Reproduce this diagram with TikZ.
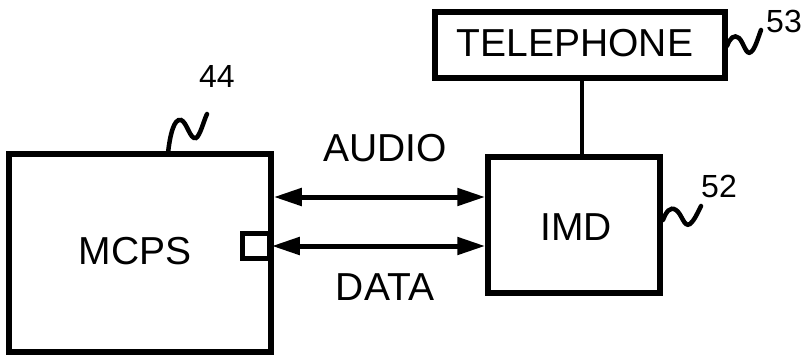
\documentclass[tikz,border=0pt]{standalone}
\usepackage{fontspec}
\setmainfont{Liberation Sans}
\usetikzlibrary{arrows.meta}
\tikzset{
  blk/.style={draw=black, line width=5.5pt, inner sep=0pt},
  lbl/.style={inner sep=0pt, font=\fontsize{32}{34}\selectfont},
  txt/.style={inner sep=0pt, font=\fontsize{39}{41}\selectfont},
  arr/.style={line width=5pt, {Triangle[length=28pt,width=17pt]}-{Triangle[length=28pt,width=17pt]}},
  squig/.style={line width=4.5pt, line cap=round}
}
\begin{document}
\begin{tikzpicture}[x=1pt,y=-1pt]
\useasboundingbox (0,0) rectangle (810,357);
\node[blk, minimum width=262pt, minimum height=198pt] (mcps) at (140,253) {};
\node[txt] at (135,251) {MCPS};
\node[blk, line width=4.5pt, minimum width=27pt, minimum height=25pt] (port) at (256,246) {};
\node[blk, minimum width=172pt, minimum height=136pt] (imd) at (574,225) {};
\node[txt] at (576,227) {IMD};
\node[blk, minimum width=290pt, minimum height=66pt] (tel) at (580,45) {};
\node[txt] at (575,43) {TELEPHONE};
\draw[line width=4pt] (tel.south -| 582,0) coordinate (t1) -- (imd.north -| t1);
\coordinate (ya) at (0,197);
\draw[arr] (mcps.east |- ya) -- (imd.west |- ya);
\draw[arr] (port.east) -- (imd.west |- port.east);
\node[txt] (audio) at (385,148) {AUDIO};
\node[txt] (data) at (385,287) {DATA};
% reference labels
\node[lbl] (n44) at (217,76) {44};
\node[lbl] (n52) at (719,186) {52};
\node[lbl] (n53) at (784,21) {53};
\draw[squig] (168,153) .. controls (170,135) and (174,118) .. (181,120) .. controls (187,122) and (190,140) .. (196,138) .. controls (200,136) and (204,120) .. (207,114);
\draw[squig] (663,220) .. controls (666,212) and (670,206) .. (676,210) .. controls (682,214) and (684,228) .. (690,224) .. controls (694,221) and (698,212) .. (701,206);
\draw[squig] (727,46) .. controls (730,38) and (734,34) .. (739,38) .. controls (744,43) and (746,56) .. (751,52) .. controls (755,49) and (758,38) .. (761,30);
\end{tikzpicture}
\end{document}
